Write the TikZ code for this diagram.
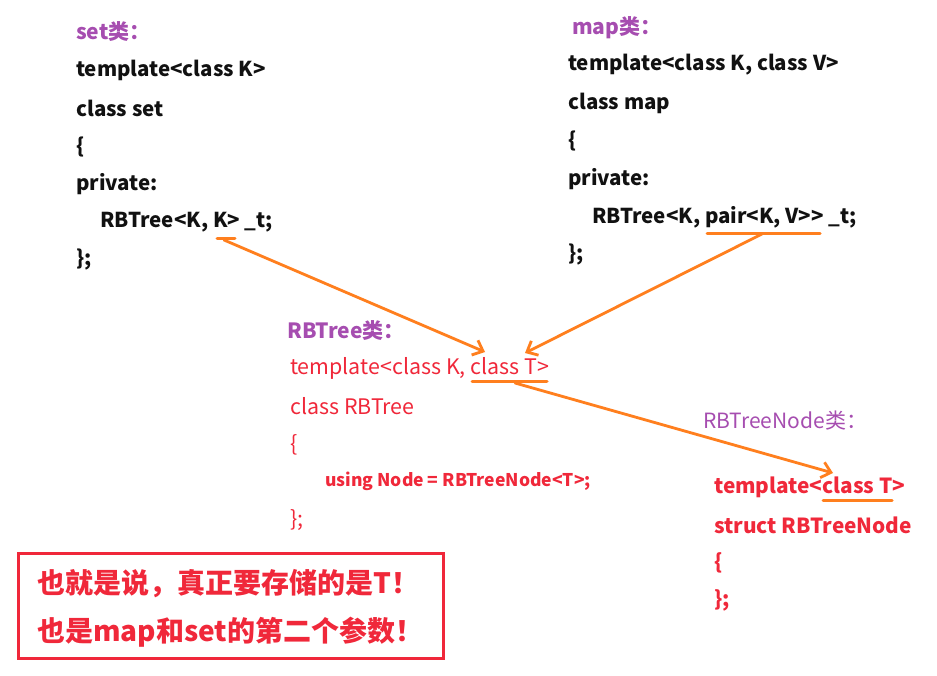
\documentclass[tikz,border=0pt]{standalone}
\usepackage{fontspec}
\setmainfont{Noto Sans CJK SC}[Ligatures=NoCommon]
\usetikzlibrary{arrows.meta}
\definecolor{codeblack}{HTML}{111111}
\definecolor{ttlpurple}{HTML}{A64DB0}
\definecolor{codered}{HTML}{F0283A}
\definecolor{arrorange}{HTML}{FF7F1E}
\tikzset{
  code/.style={anchor=west, inner sep=0pt, font=\fontsize{20.5}{20.5}\selectfont\bfseries, text=codeblack},
  ttl/.style={anchor=west, inner sep=0pt, font=\fontsize{21}{21}\selectfont\bfseries, text=ttlpurple},
  ttlr/.style={anchor=west, inner sep=0pt, font=\fontsize{21}{21}\selectfont, text=ttlpurple},
  redcode/.style={anchor=west, inner sep=0pt, font=\fontsize{21.4}{21.4}\selectfont, text=codered},
  redbold/.style={anchor=west, inner sep=0pt, font=\fontsize{20.8}{20.8}\selectfont\bfseries, text=codered},
  redsmall/.style={anchor=west, inner sep=0pt, font=\fontsize{17.5}{17.5}\selectfont\bfseries, text=codered},
  boxtext/.style={anchor=west, inner sep=0pt, font=\fontsize{28}{28}\selectfont\bfseries, text=codered},
  uline/.style={draw=arrorange, line width=3pt, line cap=round},
  conn/.style={draw=arrorange, line width=2.8pt, line cap=round, -{Straight Barb[length=9pt, width=16pt, line width=2.8pt]}},
}
\begin{document}
\begin{tikzpicture}[x=1pt, y=-1pt]
\useasboundingbox (0,0) rectangle (937,675);
\fill[white] (0,0) rectangle (937,675);
% set
\node[ttl] (setT) at (76,32) {set类：};
\node[code] (s1) at (76,70) {template<class K>};
\node[code] (s2) at (76,108) {class set};
\node[code] (s3) at (76,147) {\{};
\node[code] (s4) at (76,184) {private:};
\node[code] (s5) at (100,222) {RBTree<K, K> \_t;};
\node[code] (s6) at (76,260) {\};};
% map
\node[ttl] (mapT) at (572,28) {map类：};
\node[code] (m1) at (568,65) {template<class K, class V>};
\node[code] (m2) at (568,103) {class map};
\node[code] (m3) at (568,141) {\{};
\node[code] (m4) at (568,179) {private:};
\node[code] (m5) at (592,217) {RBTree<K, pair<K, V>{}> \_t;};
\node[code] (m6) at (568,255) {\};};
% RBTree
\node[ttl] (rbT) at (287,331) {RBTree类：};
\node[redcode] (r1) at (290,368) {template<class K, class T>};
\node[redcode] (r2) at (290,406) {class RBTree};
\node[redcode] (r3) at (290,445) {\{};
\node[redsmall] (r4) at (325,481) {using Node = RBTreeNode<T>;};
\node[redcode] (r5) at (290,520) {\};};
% RBTreeNode
\node[ttlr] (nT) at (703,421) {RBTreeNode类：};
\node[redbold] (n1) at (714,487) {template<class T>};
\node[redbold] (n2) at (714,525) {struct RBTreeNode};
\node[redbold] (n3) at (714,563) {\{};
\node[redbold] (n4) at (714,600) {\};};
% box
\draw[codered, line width=3pt] (18,553) rectangle (443,658);
\node[boxtext] (b1) at (37,584) {也就是说，真正要存储的是T！};
\node[boxtext] (b2) at (37,632) {也是map和set的第二个参数！};
% underlines
\coordinate (sulA) at (217,238); \coordinate (sulB) at (235,238);
\coordinate (mulA) at (707,233); \coordinate (mulB) at (820,233);
\coordinate (rulA) at (472,381); \coordinate (rulB) at (547,381);
\coordinate (nulA) at (823,500); \coordinate (nulB) at (892,500);
\draw[uline] (sulA) -- (sulB);
\draw[uline] (mulA) -- (mulB);
\draw[uline] (rulA) -- (rulB);
\draw[uline] (nulA) -- (nulB);
% arrows
\coordinate (a1s) at (224,240); \coordinate (a1e) at (485,352);
\coordinate (a2s) at (762,234); \coordinate (a2e) at (525,353);
\coordinate (a3s) at (515,383); \coordinate (a3e) at (833,473);
\draw[conn] (a1s) -- (a1e);
\draw[conn] (a2s) -- (a2e);
\draw[conn] (a3s) -- (a3e);
\end{tikzpicture}
\end{document}
